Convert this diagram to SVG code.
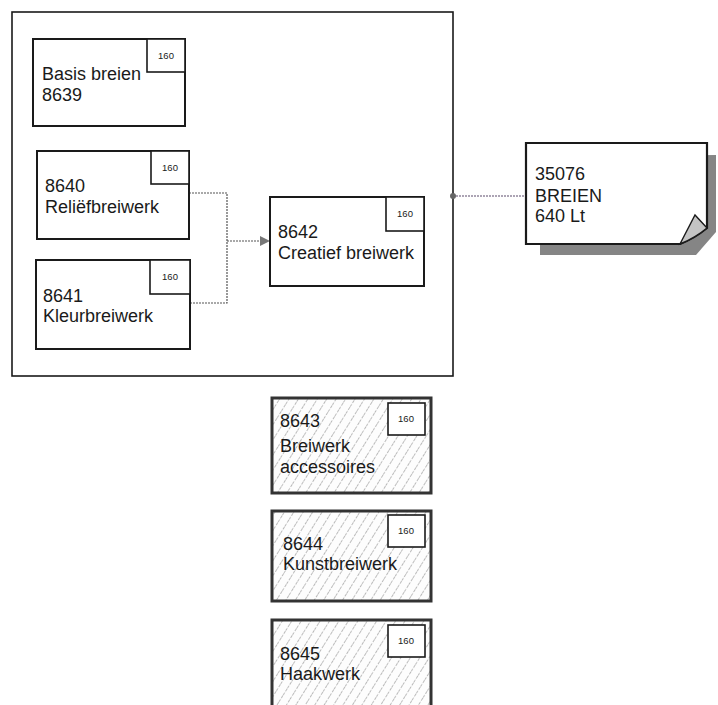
<svg xmlns="http://www.w3.org/2000/svg" width="718" height="705" viewBox="0 0 718 705">
<style>
text{font-family:"Liberation Sans",Arial,sans-serif;fill:#1a1a1a}
.lbl{font-size:18px}
.num{font-size:9.5px;text-anchor:middle}
.box{fill:#fff;stroke:#1a1a1a;stroke-width:2}
.tag{fill:#fff;stroke:#1a1a1a;stroke-width:1.6}
.hbox{fill:url(#hatch);stroke:#333;stroke-width:3}
.conn{fill:none;stroke:#555;stroke-width:1.2;stroke-dasharray:2 1}
</style>
<defs>
<pattern id="hatch" patternUnits="userSpaceOnUse" width="8" height="8" patternTransform="rotate(32)">
<rect width="8" height="8" fill="#fdfdfd"/>
<line x1="0" y1="0" x2="0" y2="8" stroke="#6a6a6a" stroke-width="0.9" stroke-dasharray="3 1.5"/>
</pattern>
<marker id="arr" viewBox="0 0 10 10" refX="10" refY="5" markerWidth="10" markerHeight="10" markerUnits="userSpaceOnUse" orient="auto">
<path d="M0,0 L10,5 L0,10 Z" fill="#777"/>
</marker>
</defs>

<g id="container">
<rect x="12" y="12" width="441" height="364" fill="none" stroke="#1a1a1a" stroke-width="1.6"/>
</g>

<g id="connectors">
<path class="conn" d="M189,193 H227 V303 H190"/>
<path class="conn" d="M227,241 H270" marker-end="url(#arr)"/>
<path class="conn" d="M453,196 H526" style="stroke:#5a4a6a"/>
<circle cx="453" cy="196" r="3" fill="#666"/>
</g>

<g id="n8639">
<rect class="box" x="33" y="39" width="152" height="87"/>
<rect class="tag" x="147" y="39" width="38" height="33"/>
<text class="num" x="166" y="59">160</text>
<text class="lbl" x="42" y="80">Basis breien</text>
<text class="lbl" x="42" y="101">8639</text>
</g>

<g id="n8640">
<rect class="box" x="37" y="151" width="152" height="88"/>
<rect class="tag" x="151" y="151" width="38" height="33"/>
<text class="num" x="170" y="171">160</text>
<text class="lbl" x="45" y="192">8640</text>
<text class="lbl" x="45" y="213">Reliëfbreiwerk</text>
</g>

<g id="n8641">
<rect class="box" x="36" y="260" width="154" height="89"/>
<rect class="tag" x="150" y="260" width="40" height="34"/>
<text class="num" x="170" y="280">160</text>
<text class="lbl" x="43" y="302">8641</text>
<text class="lbl" x="43" y="322">Kleurbreiwerk</text>
</g>

<g id="n8642">
<rect class="box" x="270" y="197" width="154" height="89"/>
<rect class="tag" x="386" y="197" width="38" height="34"/>
<text class="num" x="405" y="217">160</text>
<text class="lbl" x="278" y="238">8642</text>
<text class="lbl" x="278" y="259">Creatief breiwerk</text>
</g>

<g id="n35076">
<polygon points="540,157 716,155 716,232 696,255 540,255" fill="#858585"/>
<path d="M526,143 H707 V228 Q695,238 680,244 H526 Z" fill="#fff" stroke="#1a1a1a" stroke-width="2.2"/>
<path d="M680,244 L695,215 L707,228 Q695,238 680,244 Z" fill="#c4c4c4" stroke="#1a1a1a" stroke-width="1.4"/>
<text class="lbl" x="535" y="180">35076</text>
<text class="lbl" x="535" y="202">BREIEN</text>
<text class="lbl" x="535" y="222">640 Lt</text>
</g>

<g id="n8643">
<rect class="hbox" x="272" y="398" width="159" height="95"/>
<rect class="tag" x="388" y="403" width="37" height="32"/>
<text class="num" x="406" y="422">160</text>
<text class="lbl" x="280" y="427">8643</text>
<text class="lbl" x="280" y="452">Breiwerk</text>
<text class="lbl" x="280" y="473">accessoires</text>
</g>

<g id="n8644">
<rect class="hbox" x="272" y="511" width="159" height="90"/>
<rect class="tag" x="388" y="515" width="37" height="32"/>
<text class="num" x="406" y="534">160</text>
<text class="lbl" x="283" y="550">8644</text>
<text class="lbl" x="283" y="570">Kunstbreiwerk</text>
</g>

<g id="n8645">
<rect class="hbox" x="272" y="620" width="159" height="95"/>
<rect class="tag" x="388" y="625" width="37" height="32"/>
<text class="num" x="406" y="644">160</text>
<text class="lbl" x="280" y="660">8645</text>
<text class="lbl" x="280" y="680">Haakwerk</text>
</g>
</svg>
